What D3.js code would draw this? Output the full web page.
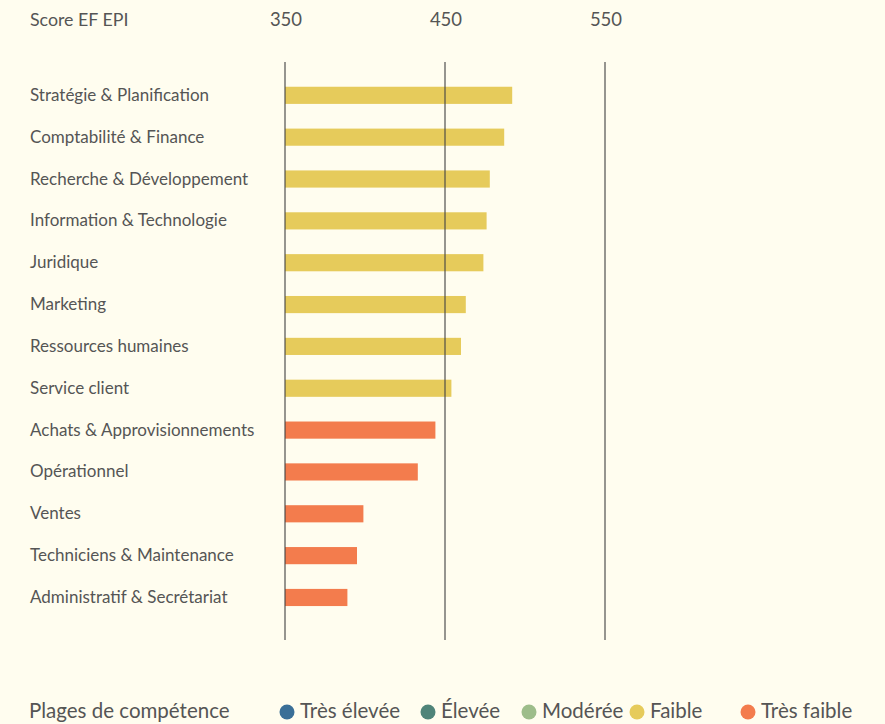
<!DOCTYPE html>
<html>
<head>
<meta charset="utf-8">
<script src="https://cdn.jsdelivr.net/npm/d3@7"></script>
<style>
  body { margin: 0; background: #fffdef; }
  svg { display: block; font-family: Lato, "Open Sans", sans-serif; }
</style>
</head>
<body>
<div class="chart"></div>
<script>
var totalWidth = 885;
var totalHeight = 724;

// DATA
var categories = [
  "Stratégie & Planification",
  "Comptabilité & Finance",
  "Recherche & Développement",
  "Information & Technologie",
  "Juridique",
  "Marketing",
  "Ressources humaines",
  "Service client",
  "Achats & Approvisionnements",
  "Opérationnel",
  "Ventes",
  "Techniciens & Maintenance",
  "Administratif & Secrétariat"
];
var scores = [492, 487, 478, 476, 474, 463, 460, 454, 444, 433, 399, 395, 389];
var levels = ["Faible", "Faible", "Faible", "Faible", "Faible", "Faible", "Faible", "Faible",
  "Très faible", "Très faible", "Très faible", "Très faible", "Très faible"];

var tickValues = [350, 450, 550];
var legendNames = ["Très élevée", "Élevée", "Modérée", "Faible", "Très faible"];
var legendColors = ["#3a6f97", "#4f8479", "#9dbd8a", "#e6cb5b", "#f37c4d"];

var data = categories.map(function(c, i) {
  return { name: c, score: scores[i], level: levels[i] };
});

var color = d3.scaleOrdinal().domain(legendNames).range(legendColors);

var xScale = d3.scaleLinear().domain([350, 550]).range([285, 605]);

var yScale = d3.scaleBand()
  .domain(categories)
  .range([74.4, 618.4])
  .paddingInner(0.59)
  .paddingOuter(0.295);

var svg = d3.select(".chart")
  .append("svg")
  .attr("width", totalWidth)
  .attr("height", totalHeight);

svg.append("rect")
  .attr("width", totalWidth)
  .attr("height", totalHeight)
  .attr("fill", "#fffdef");

// header
svg.append("text")
  .attr("x", 30)
  .attr("y", 26)
  .attr("fill", "#555")
  .style("font-size", "17.8px")
  .text("Score EF EPI");

svg.append("g")
  .selectAll("text")
  .data(tickValues)
  .enter()
  .append("text")
  .attr("x", function(d) { return xScale(d) + 1; })
  .attr("y", 26)
  .attr("text-anchor", "middle")
  .attr("fill", "#555")
  .style("font-size", "18.5px")
  .text(function(d) { return d; });

// category labels
svg.append("g")
  .selectAll("text")
  .data(data)
  .enter()
  .append("text")
  .attr("x", 30)
  .attr("y", function(d) { return yScale(d.name) + yScale.bandwidth() / 2 + 5.5; })
  .attr("fill", "#555")
  .style("font-size", "17px")
  .text(function(d) { return d.name; });

// bars
svg.append("g")
  .selectAll("rect")
  .data(data)
  .enter()
  .append("rect")
  .attr("x", xScale(350))
  .attr("y", function(d) { return yScale(d.name); })
  .attr("width", function(d) { return xScale(d.score) - xScale(350); })
  .attr("height", yScale.bandwidth())
  .attr("fill", function(d) { return color(d.level); });

// grid lines on top of bars
svg.append("g")
  .selectAll("line")
  .data(tickValues)
  .enter()
  .append("line")
  .attr("x1", function(d) { return xScale(d); })
  .attr("x2", function(d) { return xScale(d); })
  .attr("y1", 62)
  .attr("y2", 640)
  .attr("stroke", "#444")
  .attr("stroke-opacity", 0.75)
  .attr("stroke-width", 1.5);

// legend
var legend = svg.append("g");

legend.append("text")
  .attr("x", 29)
  .attr("y", 717.5)
  .attr("fill", "#555")
  .style("font-size", "20.5px")
  .text("Plages de compétence");

var legendX = [287, 428, 529, 637, 748];

var items = legend.selectAll("g.item")
  .data(legendNames)
  .enter()
  .append("g")
  .attr("class", "item")
  .attr("transform", function(d, i) { return "translate(" + legendX[i] + ",712)"; });

items.append("circle")
  .attr("r", 7.5)
  .attr("fill", function(d) { return color(d); });

items.append("text")
  .attr("x", 13)
  .attr("y", 5.5)
  .attr("fill", "#555")
  .style("font-size", "20.5px")
  .text(function(d) { return d; });
</script>
</body>
</html>
